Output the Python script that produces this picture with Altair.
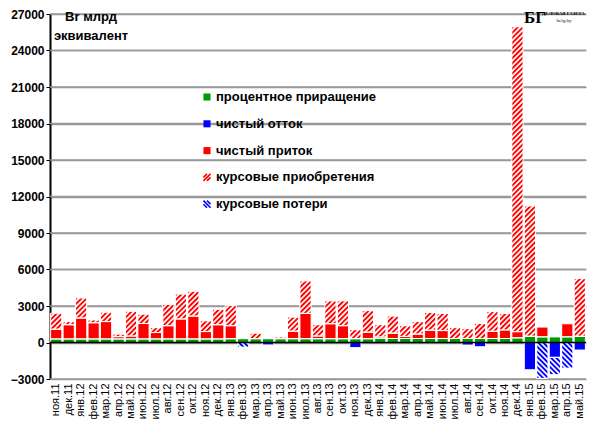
import urllib.parse

import altair as alt
import pandas as pd

months = ["ноя.11", "дек.11",
          "янв.12", "фев.12", "мар.12", "апр.12", "май.12", "июн.12",
          "июл.12", "авг.12", "сен.12", "окт.12", "ноя.12", "дек.12",
          "янв.13", "фев.13", "мар.13", "апр.13", "май.13", "июн.13",
          "июл.13", "авг.13", "сен.13", "окт.13", "ноя.13", "дек.13",
          "янв.14", "фев.14", "мар.14", "апр.14", "май.14", "июн.14",
          "июл.14", "авг.14", "сен.14", "окт.14", "ноя.14", "дек.14",
          "янв.15", "фев.15", "мар.15", "апр.15", "май.15"]

# процентное приращение
interest = [290, 290,
            290, 290, 290, 290, 290, 290, 290, 290, 290, 290, 290, 290,
            310, 310, 310, 310, 310, 310, 310, 310, 310, 310, 310, 310,
            330, 330, 330, 330, 330, 330, 330, 330, 330, 330, 330, 380,
            510, 460, 460, 460, 510]
# чистый отток
outflow = [0, 0,
           0, 0, 0, 0, 0, 0, 0, 0, 0, 0, 0, 0,
           0, 0, 0, -200, 0, 0, 0, 0, 0, 0, -420, 0,
           0, 0, 0, 0, 0, 0, 0, -210, -350, 0, 0, 0,
           -2240, 0, -1220, 0, -620]
# чистый приток
inflow = [800, 1170,
          1720, 1330, 1430, 190, 240, 1270, 530, 1090, 1640, 1880, 610, 1170,
          1070, 0, 0, 0, 0, 620, 2080, 220, 1230, 1070, 0, 540,
          120, 440, 170, 360, 680, 650, 0, 0, 0, 590, 700, 510,
          0, 810, 0, 1080, 0]
# курсовые приобретения
fx_gain = [1320, 260,
           1650, 230, 770, 210, 2040, 770, 400, 1750, 2050, 2040, 880, 1270,
           1670, 0, 460, 0, 140, 1160, 2670, 930, 1880, 2040, 750, 1770,
           1010, 1400, 880, 1030, 1450, 1410, 890, 810, 1230, 1620, 1350, 25060,
           10710, 0, 0, 0, 4760]
# курсовые потери
fx_loss = [0, 0,
           0, 0, 0, 0, 0, 0, 0, 0, 0, 0, 0, 0,
           0, -380, 0, 0, 0, 0, 0, 0, 0, 0, 0, 0,
           0, 0, 0, 0, 0, 0, 0, 0, 0, 0, 0, 0,
           0, -2950, -1430, -2110, 0]

names = ["процентное приращение", "чистый отток", "чистый приток",
         "курсовые приобретения", "курсовые потери"]
series = [interest, outflow, inflow, fx_gain, fx_loss]
fills = ["#009a00", "#0000ff", "#ff0000", "white", "white"]
y_ticks = [-3000, 0, 3000, 6000, 9000, 12000, 15000, 18000, 21000, 24000, 27000]

rows = []
for i, m in enumerate(months):
    for order, (name, vals) in enumerate(zip(names, series)):
        if vals[i] != 0:
            rows.append({"month": m, "series": name, "value": vals[i], "order": order})
df = pd.DataFrame(rows)


def hatch(color, angle):
    svg = ('<svg xmlns="http://www.w3.org/2000/svg" width="100%" height="100%">'
           '<defs><pattern id="h" width="3.6" height="3.6" patternUnits="userSpaceOnUse" '
           'patternTransform="rotate(' + str(angle) + ')">'
           '<rect width="3.6" height="3.6" fill="white"/>'
           '<rect width="1.9" height="3.6" fill="' + color + '"/></pattern></defs>'
           '<rect width="100%" height="100%" fill="url(#h)"/></svg>')
    return "data:image/svg+xml;charset=utf-8," + urllib.parse.quote(svg)


x = alt.X("month:N", sort=months,
          scale=alt.Scale(paddingInner=0.1, paddingOuter=0.05),
          axis=alt.Axis(title=None, labelAngle=-90, labelFontSize=11,
                        labelFont="Liberation Sans", labelColor="black",
                        ticks=False, domain=False, grid=False, labelPadding=4))
y = alt.Y("v0:Q", scale=alt.Scale(domain=[-3000, 27000], nice=False),
          axis=alt.Axis(values=y_ticks, tickCount=len(y_ticks), format="d",
                        title=None, labelFont="Liberation Sans",
                        labelFontWeight="bold", labelFontSize=12,
                        labelColor="black", labelOverlap=False,
                        grid=True, gridColor="#999999", gridWidth=1.3,
                        gridOpacity=1,
                        domainColor="black", domainWidth=2, tickColor="black",
                        tickSize=4, labelPadding=2))
y2 = alt.Y2("v1:Q")

grid = alt.Chart(pd.DataFrame({"g": y_ticks})).mark_rule(
    color="#999999", strokeWidth=1.3, opacity=1).encode(y=alt.Y("g:Q"))

base = alt.Chart(df).transform_stack(
    stack="value", groupby=["month"], as_=["v0", "v1"],
    sort=[alt.SortField("order", order="ascending")])

bars = base.mark_bar().encode(
    x=x, y=y, y2=y2,
    color=alt.Color("series:N", legend=None,
                    scale=alt.Scale(domain=names, range=fills)))

gain_img = base.transform_filter(alt.datum.series == names[3]).mark_image(
    aspect=False).encode(x=x, y=y, y2=y2, url=alt.value(hatch("#ff0000", 45)))
loss_img = base.transform_filter(alt.datum.series == names[4]).mark_image(
    aspect=False).encode(x=x, y=y, y2=y2, url=alt.value(hatch("#0000ff", -45)))

outline = base.mark_bar(fillOpacity=0, stroke="white", strokeWidth=1).encode(
    x=x, y=y, y2=y2)

zero = alt.Chart(pd.DataFrame({"z": [0]})).mark_rule(
    color="black", strokeWidth=1.5).encode(y=alt.datum(0))

# legend drawn by hand so the hatched entries can show stripes
legend_base = alt.Chart(pd.DataFrame({"label": names})).transform_window(
    idx="row_number()").transform_calculate(py="83 + (datum.idx - 1) * 26.8")
ly = alt.Y("py:Q", scale=None, axis=None)
legend_sym = legend_base.mark_point(size=50, strokeWidth=1.6, opacity=1).encode(
    x=alt.value(157), y=ly,
    shape=alt.Shape("label:N", legend=None, scale=alt.Scale(
        domain=names,
        range=["square", "square", "square",
               "M-1,1L1,-1M-1,0L0,-1M0,1L1,0",
               "M-1,-1L1,1M-1,0L0,1M0,-1L1,0"])),
    fill=alt.Fill("label:N", legend=None, scale=alt.Scale(
        domain=names,
        range=["#009a00", "#0000ff", "#ff0000", "transparent", "transparent"])),
    stroke=alt.Stroke("label:N", legend=None, scale=alt.Scale(
        domain=names,
        range=["transparent", "transparent", "transparent", "#ff0000", "#0000ff"])))
legend_txt = legend_base.mark_text(
    align="left", baseline="middle", font="Liberation Sans", fontSize=13,
    fontWeight="bold", color="black").encode(
    x=alt.value(166), y=ly, text="label:N")

one = pd.DataFrame({"t": [0]})
unit_title = alt.Chart(one).mark_text(
    text=["Br млрд", "эквивалент"], font="Liberation Sans", fontSize=13,
    fontWeight="bold", align="center", baseline="top", lineHeight=19,
    color="black").encode(x=alt.value(41), y=alt.value(-3))

logo_big = alt.Chart(one).mark_text(
    text="БГ", font="Liberation Serif", fontSize=17, fontWeight="bold",
    align="left", baseline="alphabetic", color="black").encode(
    x=alt.value(474), y=alt.value(9))
logo_name = alt.Chart(one).mark_text(
    text="ДЕЛОВАЯ ГАЗЕТА", font="Liberation Serif", fontSize=4.8,
    fontWeight="bold", align="left", baseline="alphabetic",
    color="black").encode(x=alt.value(492), y=alt.value(1))
logo_site = alt.Chart(one).mark_text(
    text="belg.by", font="Liberation Serif", fontSize=5, align="center",
    baseline="alphabetic", color="black").encode(
    x=alt.value(514), y=alt.value(8))

chart = alt.layer(
    grid, bars, gain_img, loss_img, outline, zero, legend_sym, legend_txt,
    unit_title, logo_big, logo_name, logo_site
).properties(
    width=536, height=365,
    autosize=alt.AutoSizeParams(type="none"),
    padding={"left": 42, "top": 6, "right": 2, "bottom": 40},
    background="white"
).configure_view(strokeWidth=0)

chart.save("out.html", embed_options={"renderer": "svg", "actions": False})
